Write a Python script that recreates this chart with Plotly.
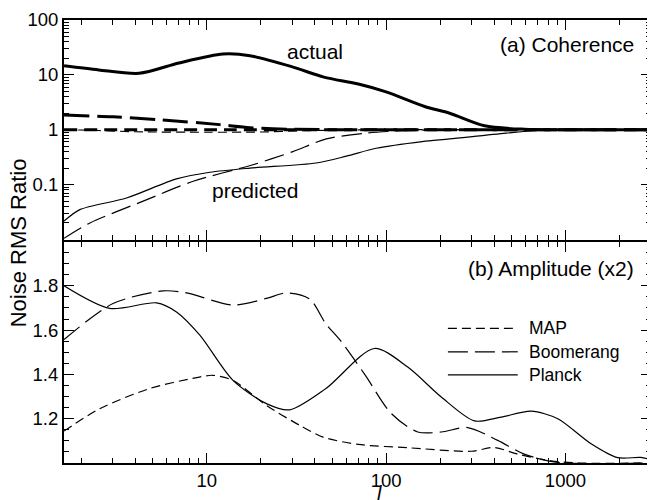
import plotly.graph_objects as go

# ---------------- data ----------------
# (a) Coherence, top panel (log y)
planck_act_l = [1.6, 2.5, 4.2, 7, 12.3, 17.4, 30, 45, 70, 100, 164, 226, 354, 590, 1000, 3000]
planck_act_v = [14.6, 12.3, 10.7, 16.5, 24.0, 22.4, 14.0, 9.1, 6.8, 4.9, 2.65, 2.0, 1.18, 1.02, 1.0, 1.0]

boom_act_l = [1.6, 3, 5.5, 11.8, 17.4, 30, 60, 200, 3000]
boom_act_v = [1.85, 1.72, 1.52, 1.24, 1.09, 1.02, 1.0, 1.0, 1.0]

map_act_l = [1.6, 10, 100, 1000, 3000]
map_act_v = [1.0, 1.0, 1.0, 1.0, 1.0]

map_pred_l = [1.6, 2.5, 4, 10, 20, 35, 60, 100, 3000]
map_pred_v = [1.0, 0.97, 0.92, 0.9, 0.91, 0.96, 0.99, 1.0, 1.0]

planck_pred_l = [1.6, 1.96, 3.57, 6.78, 10.4, 17.4, 40.8, 60, 88, 159, 226, 468, 812, 3000]
planck_pred_v = [0.0216, 0.035, 0.057, 0.127, 0.168, 0.2, 0.248, 0.33, 0.46, 0.61, 0.68, 0.87, 1.0, 1.0]

boom_pred_l = [1.6, 2.23, 4.42, 8.4, 18.1, 30.2, 46.4, 77.6, 119, 200, 3000]
boom_pred_v = [0.0105, 0.020, 0.050, 0.115, 0.23, 0.40, 0.68, 0.87, 0.95, 1.0, 1.0]

# (b) Amplitude (x2), bottom panel (linear y)
map_amp_l = [1.6, 2.53, 4.8, 9.1, 10.8, 14, 21.5, 33, 44.5, 70, 132, 298, 402, 542, 830, 1200, 3000]
map_amp_v = [1.144, 1.245, 1.336, 1.388, 1.396, 1.373, 1.26, 1.17, 1.117, 1.084, 1.069, 1.053, 1.07, 1.04, 1.01, 1.0, 1.0]

boom_amp_l = [1.6, 3.0, 5.7, 7.7, 14, 21.5, 27.8, 37.5, 46, 56, 76, 107, 150, 203, 285, 419, 589, 900, 3000]
boom_amp_v = [1.557, 1.72, 1.777, 1.768, 1.713, 1.743, 1.768, 1.74, 1.63, 1.55, 1.40, 1.223, 1.14, 1.14, 1.16, 1.102, 1.04, 1.003, 1.0]

planck_amp_l = [1.6, 2.88, 5.25, 6.78, 9.15, 14, 21.5, 29, 46, 86, 132, 203, 311, 438, 644, 906, 1390, 1955, 2625, 3000]
planck_amp_v = [1.80, 1.698, 1.723, 1.682, 1.577, 1.373, 1.268, 1.24, 1.335, 1.517, 1.433, 1.298, 1.19, 1.207, 1.234, 1.2, 1.087, 1.024, 1.025, 1.015]

x_tickvals = [10, 100, 1000]
x_ticktext = ["10", "100", "1000"]
top_tickvals = [0.01, 0.1, 1, 10, 100]
top_ticktext = ["", "0.1", "1", "10", "100"]
bot_tickvals = [1.0, 1.2, 1.4, 1.6, 1.8, 2.0]
bot_ticktext = ["", "1.2", "1.4", "1.6", "1.8", ""]
legend_names = ["MAP", "Boomerang", "Planck"]

# ---------------- styles ----------------
FONT = "Liberation Sans, Arial, Helvetica, sans-serif"
SHORT = "9px,5px"
LONG = "20px,7px"
THIN = 1.2
THICK = 3

fig = go.Figure()

def add(xs, ys, dash, width, yaxis):
    fig.add_trace(go.Scatter(
        x=xs, y=ys, mode="lines", xaxis="x" if yaxis == "y" else "x2", yaxis=yaxis,
        line=dict(color="black", width=width, dash=dash, shape="spline", smoothing=0.8),
        showlegend=False, hoverinfo="skip"))

# top panel
add(map_pred_l, map_pred_v, SHORT, THIN, "y2")
add(boom_pred_l, boom_pred_v, LONG, THIN, "y2")
add(planck_pred_l, planck_pred_v, "solid", THIN, "y2")
add(map_act_l, map_act_v, "13px,7px", THICK, "y2")
add(boom_act_l, boom_act_v, "25px,8px", THICK, "y2")
add(planck_act_l, planck_act_v, "solid", THICK, "y2")
# bottom panel
add(map_amp_l, map_amp_v, SHORT, THIN, "y")
add(boom_amp_l, boom_amp_v, LONG, THIN, "y")
add(planck_amp_l, planck_amp_v, "solid", THIN, "y")

def log_minor(lo, hi):
    vals = []
    for e in range(lo, hi):
        for d in range(2, 10):
            vals.append(d * 10 ** e)
    return vals

xr = [0.204, 3.477]
common_x = dict(type="log", range=xr, showline=True, linewidth=2, linecolor="black",
                mirror="ticks", ticks="inside", ticklen=10, tickwidth=1, tickcolor="black",
                tickmode="array", tickvals=x_tickvals, ticktext=x_ticktext,
                minor=dict(ticks="inside", ticklen=5, tickcolor="black", tickwidth=1,
                           tickmode="array", tickvals=log_minor(0, 4)),
                showgrid=False, zeroline=False, automargin=False,
                tickfont=dict(family=FONT, size=18.5, color="black"))

# the page body has an 8px default margin, so the figure is made 8px smaller
fig.update_layout(
    width=647, height=492,
    margin=dict(l=56, r=4, t=12, b=37),
    paper_bgcolor="white", plot_bgcolor="white",
    font=dict(family=FONT, color="black"),
    showlegend=False,
    xaxis=dict(**common_x, anchor="y", domain=[0, 1]),
    xaxis2=dict(**common_x, anchor="y2", matches="x", showticklabels=False),
    yaxis=dict(domain=[0, 0.5], range=[1.0, 2.0], anchor="x",
               showline=True, linewidth=2, linecolor="black", mirror="ticks",
               ticks="inside", ticklen=10, tickwidth=1, tickcolor="black",
               tickmode="array", tickvals=bot_tickvals, ticktext=bot_ticktext,
               minor=dict(ticks="inside", ticklen=5, tickcolor="black", tickwidth=1, dtick=0.05),
               showgrid=False, zeroline=False, automargin=False,
               tickfont=dict(family=FONT, size=18.5, color="black")),
    yaxis2=dict(domain=[0.5045, 1], type="log", range=[-2, 2], anchor="x2",
                showline=True, linewidth=2, linecolor="black", mirror="ticks",
                ticks="inside", ticklen=10, tickwidth=1, tickcolor="black",
                tickmode="array", tickvals=top_tickvals, ticktext=top_ticktext,
                minor=dict(ticks="inside", ticklen=5, tickcolor="black", tickwidth=1,
                           tickmode="array", tickvals=log_minor(-2, 2)),
                showgrid=False, zeroline=False, automargin=False,
                tickfont=dict(family=FONT, size=18.5, color="black")),
)

ann = [
    dict(text="actual", x=0.4276, y=0.9284, size=21, xanchor="center"),
    dict(text="predicted", x=0.325, y=0.616, size=21, xanchor="center"),
    dict(text="(a) Coherence", x=0.974, y=0.9436, size=21, xanchor="right"),
    dict(text="(b) Amplitude (x2)", x=0.974, y=0.4395, size=21, xanchor="right"),
]
for a in ann:
    fig.add_annotation(text=a["text"], xref="paper", yref="paper", x=a["x"], y=a["y"],
                       xanchor=a["xanchor"], yanchor="middle", showarrow=False,
                       font=dict(family=FONT, size=a["size"], color="black"))

fig.add_annotation(text="Noise RMS Ratio", xref="paper", yref="paper", x=-0.0775, y=0.497,
                   textangle=-90, xanchor="center", yanchor="middle", showarrow=False,
                   font=dict(family=FONT, size=22, color="black"))
fig.add_annotation(text="<i>l</i>", xref="paper", yref="paper", x=0.538, y=-0.0675,
                   xanchor="center", yanchor="middle", showarrow=False,
                   font=dict(family=FONT, size=20, color="black"))

# custom legend (bottom panel)
leg_dash = [SHORT, LONG, "solid"]
leg_y = [0.304, 0.251, 0.199]
for name, d, yy in zip(legend_names, leg_dash, leg_y):
    fig.add_shape(type="line", xref="paper", yref="paper", x0=0.654, x1=0.773, y0=yy, y1=yy,
                  line=dict(color="black", width=THIN, dash=d))
    fig.add_annotation(text=name, xref="paper", yref="paper", x=0.789, y=yy,
                       xanchor="left", yanchor="middle", showarrow=False,
                       font=dict(family=FONT, size=17.5, color="black"))

fig.write_html("out.html")
